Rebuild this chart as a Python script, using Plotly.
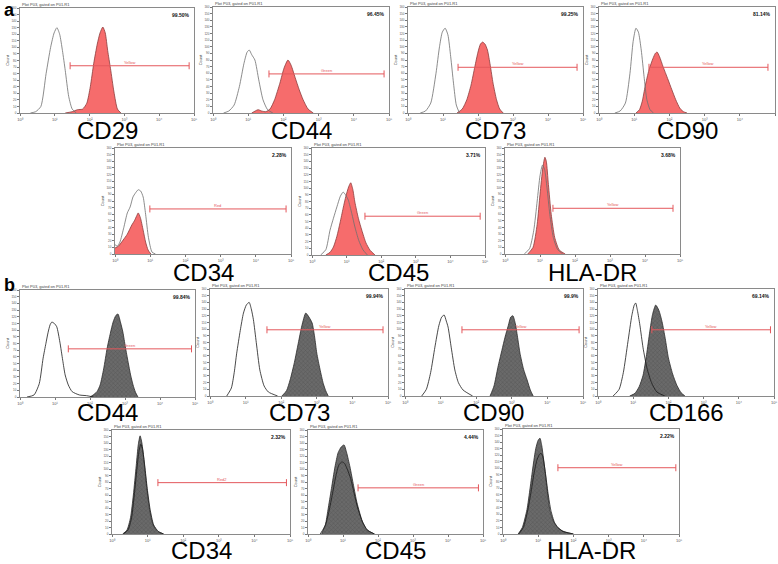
import plotly.graph_objects as go

# ---------------- data (x = log10 fluorescence, y = count) ----------------
MARKERS_A = ["CD29", "CD44", "CD73", "CD90", "CD34", "CD45", "HLA-DR"]
MARKERS_B = ["CD44", "CD73", "CD90", "CD166", "CD34", "CD45", "HLA-DR"]
PCT_A = ["99.50%", "96.45%", "99.25%", "81.14%", "2.28%", "3.71%", "3.68%"]
PCT_B = ["99.84%", "99.94%", "99.9%", "69.14%", "2.32%", "4.44%", "2.22%"]
GATE_NAME_A = ["Yellow", "Green", "Yellow", "Yellow", "Red", "Green", "Yellow"]
GATE_NAME_B = ["Green", "Yellow", "Yellow", "Yellow", "Red2", "Green", "Yellow"]
GATE_START_A = [1.44, 1.59, 1.43, 1.42, 0.99, 1.53, 1.37]
GATE_END_A = [4.86, 4.86, 4.83, 4.80, 4.86, 4.86, 4.80]
GATE_LEVEL_A = [72, 59, 69, 69, 68, 58, 69]
GATE_START_B = [1.38, 1.60, 1.60, 1.53, 1.29, 1.43, 1.56]
GATE_END_B = [4.90, 4.86, 4.89, 4.90, 4.90, 4.87, 4.91]
GATE_LEVEL_B = [72, 99, 99, 99, 79, 71, 101]
DECADE_TICKS = ["10⁰", "10¹", "10²", "10³", "10⁴", "10⁵"]

# panel a: isotype (ISO) and stained (POS)
A_CD29_ISO_X = [0.3, 0.45, 0.6, 0.75, 0.88, 0.98, 1.06, 1.14, 1.22, 1.3, 1.4, 1.5, 1.62]
A_CD29_ISO_Y = [0, 2, 10, 60, 100, 122, 130, 120, 95, 65, 25, 6, 0]
A_CD29_POS_X = [1.3, 1.5, 1.65, 1.8, 1.92, 2.02, 2.12, 2.22, 2.3, 2.38, 2.45, 2.52, 2.6, 2.7, 2.8, 2.9]
A_CD29_POS_Y = [0, 2, 5, 6, 15, 40, 76, 105, 122, 131, 122, 95, 68, 32, 6, 0]

A_CD44_ISO_X = [0.3, 0.45, 0.6, 0.75, 0.88, 0.97, 1.03, 1.1, 1.19, 1.3, 1.42, 1.55, 1.7]
A_CD44_ISO_Y = [0, 3, 12, 40, 75, 92, 95, 88, 80, 50, 20, 5, 0]
A_CD44_POS_X = [1.1, 1.2, 1.28, 1.38, 1.5, 1.62, 1.75, 1.9, 2.02, 2.13, 2.22, 2.33, 2.45, 2.56, 2.7, 2.85]
A_CD44_POS_Y = [0, 3, 5, 3, 2, 6, 20, 45, 68, 80, 72, 54, 35, 20, 6, 0]

A_CD73_ISO_X = [0.35, 0.5, 0.65, 0.8, 0.9, 0.98, 1.06, 1.14, 1.22, 1.3, 1.38, 1.47]
A_CD73_ISO_Y = [0, 3, 15, 60, 100, 122, 128, 118, 85, 45, 12, 0]
A_CD73_POS_X = [1.4, 1.55, 1.68, 1.8, 1.91, 2.0, 2.07, 2.13, 2.2, 2.27, 2.35, 2.43, 2.53, 2.62, 2.72]
A_CD73_POS_Y = [0, 6, 20, 42, 70, 92, 104, 107, 104, 95, 72, 45, 20, 6, 0]

A_CD90_ISO_X = [0.45, 0.6, 0.75, 0.88, 0.97, 1.05, 1.12, 1.2, 1.28, 1.36, 1.45, 1.55]
A_CD90_ISO_Y = [0, 3, 15, 60, 108, 128, 122, 95, 55, 20, 5, 0]
A_CD90_POS_X = [1.05, 1.15, 1.23, 1.31, 1.42, 1.53, 1.6, 1.65, 1.72, 1.82, 1.95, 2.07, 2.18, 2.3, 2.4, 2.5]
A_CD90_POS_Y = [0, 5, 18, 40, 65, 82, 90, 92, 85, 70, 52, 35, 20, 7, 2, 0]

A_CD34_ISO_X = [0, 0.07, 0.14, 0.25, 0.35, 0.43, 0.51, 0.58, 0.66, 0.73, 0.8, 0.87, 0.95, 1.05, 1.15]
A_CD34_ISO_Y = [14, 12, 18, 40, 62, 71, 86, 92, 97, 95, 86, 60, 25, 3, 0]
A_CD34_POS_X = [0, 0.1, 0.23, 0.35, 0.48, 0.55, 0.62, 0.66, 0.72, 0.8, 0.87, 0.94, 1.02]
A_CD34_POS_Y = [9, 12, 21, 30, 44, 50, 58, 62, 55, 36, 18, 6, 0]

A_CD45_ISO_X = [0.25, 0.4, 0.52, 0.62, 0.72, 0.82, 0.9, 0.97, 1.05, 1.15, 1.24, 1.35, 1.47, 1.6]
A_CD45_ISO_Y = [0, 8, 37, 55, 72, 88, 94, 90, 82, 62, 42, 22, 8, 0]
A_CD45_POS_X = [0.4, 0.52, 0.62, 0.72, 0.81, 0.9, 0.98, 1.06, 1.12, 1.18, 1.24, 1.34, 1.44, 1.56, 1.68, 1.82]
A_CD45_POS_Y = [0, 4, 12, 28, 48, 70, 88, 102, 108, 98, 79, 55, 37, 18, 7, 0]

A_HLADR_ISO_X = [0.55, 0.7, 0.82, 0.92, 1.0, 1.07, 1.13, 1.2, 1.28, 1.38, 1.5, 1.65]
A_HLADR_ISO_Y = [0, 8, 35, 80, 118, 134, 128, 100, 60, 25, 7, 0]
A_HLADR_POS_X = [0.65, 0.8, 0.92, 1.0, 1.08, 1.14, 1.18, 1.24, 1.32, 1.42, 1.55, 1.72]
A_HLADR_POS_Y = [0, 10, 45, 90, 130, 146, 140, 105, 60, 25, 6, 0]

# panel b
B_CD44_ISO_X = [0.2, 0.4, 0.55, 0.66, 0.74, 0.8, 0.86, 0.91, 0.98, 1.05, 1.14, 1.22, 1.29, 1.38, 1.49, 1.7, 1.9, 2.1]
B_CD44_ISO_Y = [0, 3, 20, 58, 80, 96, 108, 112, 110, 105, 82, 55, 33, 18, 8, 3, 2, 0]
B_CD44_POS_X = [2.0, 2.09, 2.2, 2.29, 2.39, 2.49, 2.58, 2.66, 2.74, 2.8, 2.87, 2.94, 3.01, 3.09, 3.16, 3.23, 3.3, 3.37]
B_CD44_POS_Y = [0, 3, 8, 18, 42, 73, 95, 112, 122, 124, 112, 97, 75, 52, 33, 18, 7, 0]

B_CD73_ISO_X = [0.47, 0.6, 0.68, 0.75, 0.85, 0.94, 1.02, 1.1, 1.16, 1.22, 1.3, 1.4, 1.52, 1.64, 1.9]
B_CD73_ISO_Y = [0, 12, 35, 64, 98, 124, 136, 140, 130, 114, 80, 39, 15, 6, 0]
B_CD73_POS_X = [2.02, 2.15, 2.25, 2.37, 2.48, 2.58, 2.69, 2.78, 2.87, 2.94, 3.0, 3.09, 3.18, 3.25, 3.32]
B_CD73_POS_Y = [0, 8, 24, 50, 79, 105, 124, 118, 109, 88, 64, 40, 19, 8, 0]

B_CD90_ISO_X = [0.47, 0.6, 0.72, 0.84, 0.95, 1.03, 1.1, 1.16, 1.21, 1.3, 1.4, 1.5, 1.63, 1.9]
B_CD90_ISO_Y = [0, 10, 35, 73, 105, 118, 121, 112, 103, 72, 39, 20, 9, 0]
B_CD90_POS_X = [2.39, 2.5, 2.61, 2.72, 2.81, 2.9, 2.97, 3.03, 3.1, 3.17, 3.23, 3.33, 3.43, 3.52, 3.6]
B_CD90_POS_Y = [0, 15, 43, 68, 88, 105, 118, 120, 108, 85, 64, 40, 24, 9, 0]

B_CD166_ISO_X = [0.43, 0.6, 0.72, 0.85, 0.96, 1.03, 1.07, 1.12, 1.19, 1.28, 1.39, 1.52, 1.67, 1.9]
B_CD166_ISO_Y = [0, 10, 35, 81, 120, 136, 139, 128, 106, 72, 42, 20, 6, 0]
B_CD166_POS_X = [0.9, 1.05, 1.17, 1.28, 1.38, 1.47, 1.55, 1.64, 1.73, 1.82, 1.91, 2.0, 2.12, 2.24, 2.36, 2.47]
B_CD166_POS_Y = [0, 4, 14, 31, 62, 96, 122, 136, 128, 111, 86, 57, 33, 16, 5, 0]

B_CD34_ISO_X = [0.32, 0.45, 0.55, 0.63, 0.7, 0.76, 0.81, 0.86, 0.92, 0.99, 1.07, 1.17, 1.3, 1.45]
B_CD34_ISO_Y = [0, 6, 25, 62, 100, 128, 138, 130, 105, 70, 38, 14, 4, 0]
B_CD34_POS_X = [0.3, 0.42, 0.52, 0.6, 0.68, 0.74, 0.79, 0.84, 0.9, 0.97, 1.05, 1.15, 1.28, 1.45]
B_CD34_POS_Y = [0, 6, 25, 60, 105, 138, 151, 140, 112, 75, 40, 15, 4, 0]

B_CD45_ISO_X = [0.35, 0.5, 0.6, 0.7, 0.8, 0.88, 0.97, 1.05, 1.12, 1.22, 1.32, 1.42, 1.56, 1.7, 1.9]
B_CD45_ISO_Y = [0, 14, 35, 62, 90, 106, 111, 108, 100, 85, 62, 40, 18, 6, 0]
B_CD45_POS_X = [0.39, 0.5, 0.57, 0.67, 0.77, 0.86, 0.95, 1.03, 1.1, 1.2, 1.3, 1.4, 1.55, 1.69, 1.9]
B_CD45_POS_Y = [0, 15, 37, 70, 103, 125, 134, 137, 126, 103, 75, 48, 20, 6, 0]

B_HLADR_ISO_X = [0.45, 0.58, 0.7, 0.8, 0.88, 0.96, 1.03, 1.08, 1.13, 1.2, 1.28, 1.36, 1.46, 1.56, 1.7, 1.85, 2.0]
B_HLADR_ISO_Y = [0, 10, 35, 65, 92, 112, 121, 123, 118, 95, 62, 36, 18, 10, 4, 2, 0]
B_HLADR_POS_X = [0.43, 0.55, 0.68, 0.77, 0.85, 0.93, 1.0, 1.05, 1.1, 1.19, 1.26, 1.33, 1.43, 1.53, 1.68, 1.82, 2.0]
B_HLADR_POS_Y = [0, 10, 37, 70, 102, 130, 143, 146, 135, 98, 65, 37, 20, 11, 5, 2, 0]

CURVES_A = [
    (A_CD29_ISO_X, A_CD29_ISO_Y, A_CD29_POS_X, A_CD29_POS_Y),
    (A_CD44_ISO_X, A_CD44_ISO_Y, A_CD44_POS_X, A_CD44_POS_Y),
    (A_CD73_ISO_X, A_CD73_ISO_Y, A_CD73_POS_X, A_CD73_POS_Y),
    (A_CD90_ISO_X, A_CD90_ISO_Y, A_CD90_POS_X, A_CD90_POS_Y),
    (A_CD34_ISO_X, A_CD34_ISO_Y, A_CD34_POS_X, A_CD34_POS_Y),
    (A_CD45_ISO_X, A_CD45_ISO_Y, A_CD45_POS_X, A_CD45_POS_Y),
    (A_HLADR_ISO_X, A_HLADR_ISO_Y, A_HLADR_POS_X, A_HLADR_POS_Y),
]
CURVES_B = [
    (B_CD44_ISO_X, B_CD44_ISO_Y, B_CD44_POS_X, B_CD44_POS_Y),
    (B_CD73_ISO_X, B_CD73_ISO_Y, B_CD73_POS_X, B_CD73_POS_Y),
    (B_CD90_ISO_X, B_CD90_ISO_Y, B_CD90_POS_X, B_CD90_POS_Y),
    (B_CD166_ISO_X, B_CD166_ISO_Y, B_CD166_POS_X, B_CD166_POS_Y),
    (B_CD34_ISO_X, B_CD34_ISO_Y, B_CD34_POS_X, B_CD34_POS_Y),
    (B_CD45_ISO_X, B_CD45_ISO_Y, B_CD45_POS_X, B_CD45_POS_Y),
    (B_HLADR_ISO_X, B_HLADR_ISO_Y, B_HLADR_POS_X, B_HLADR_POS_Y),
]

# ---------------- layout (pixel boxes: left, right, top, bottom) ----------------
W, H = 778, 564
BOXES_A = [(20, 194, 8, 113), (213, 389, 7, 113), (408, 583, 7, 113), (599, 775, 7, 113),
           (115, 291, 148, 254), (312, 485, 148, 255), (505, 680, 148, 254)]
BOXES_B = [(20, 195, 290, 397), (210, 388, 289, 396), (405, 583, 289, 396), (598, 774, 289, 396),
           (112, 290, 430, 534), (308, 483, 430, 534), (503, 679, 429, 534)]
LABEL_Y_A = [130, 130, 130, 130, 272, 272, 272]
LABEL_Y_B = [412, 412, 412, 412, 550, 550, 550]

RED_FILL = "rgba(246,108,108,1)"
RED_LINE = "#8c3b3b"
GRAY_FILL = "#6a6a6a"
GATE_COLOR = "#e4585c"

fig = go.Figure()
annotations = []
layout = {}


def lg(vals):
    return [10 ** v for v in vals]


def add_panel(n, box, curves, stained_fill, stained_line, iso_color, gate, gname, pct, label, label_y, hatch):
    left, right, top, bottom = box
    xa, ya = f"x{n}" if n > 1 else "x", f"y{n}" if n > 1 else "y"
    xk, yk = f"xaxis{n}" if n > 1 else "xaxis", f"yaxis{n}" if n > 1 else "yaxis"
    iso_x, iso_y, pos_x, pos_y = curves
    extra = {}
    if hatch:
        extra["fillpattern"] = dict(shape="x", bgcolor=stained_fill, fgcolor="#3c3c3c", size=3, solidity=0.25)
    fig.add_trace(go.Scatter(x=lg(pos_x), y=pos_y, mode="lines", line=dict(color=stained_line, width=0.8, shape="spline", smoothing=0.6),
                             fill="tozeroy", fillcolor=stained_fill, xaxis=xa, yaxis=ya, showlegend=False, hoverinfo="skip", **extra))
    fig.add_trace(go.Scatter(x=lg(iso_x), y=iso_y, mode="lines", line=dict(color=iso_color, width=0.8, shape="spline", smoothing=0.6),
                             xaxis=xa, yaxis=ya, showlegend=False, hoverinfo="skip"))
    g0, g1, gy = gate
    fig.add_trace(go.Scatter(x=lg([g0, g1]), y=[gy, gy], mode="lines+markers",
                             line=dict(color=GATE_COLOR, width=1),
                             marker=dict(symbol="line-ns-open", size=5, line=dict(color=GATE_COLOR, width=1)),
                             xaxis=xa, yaxis=ya, showlegend=False, hoverinfo="skip"))
    layout[xk] = dict(domain=[left / W, right / W], anchor=ya, type="log", range=[0, 5], automargin=False,
                      tickvals=[1, 10, 100, 1000, 10000, 100000], ticktext=DECADE_TICKS,
                      tickfont=dict(size=4, color="#555"), ticks="outside", ticklen=2, tickcolor="#777",
                      showline=True, linecolor="#8a8a8a", linewidth=1, mirror=True, showgrid=False, zeroline=False)
    layout[yk] = dict(domain=[1 - bottom / H, 1 - top / H], anchor=xa, range=[0, 160], dtick=10, automargin=False,
                      tickfont=dict(size=3, color="#555"), ticks="outside", ticklen=2, tickcolor="#777",
                      showline=True, linecolor="#8a8a8a", linewidth=1, mirror=True, showgrid=False, zeroline=False,
                      title=dict(text="Count", font=dict(size=4, color="#444"), standoff=1))
    annotations.append(dict(xref=f"{xa} domain", yref=f"{ya} domain", x=0.99, y=0.985, xanchor="right", yanchor="top",
                            text=f"<b>{pct}</b>", showarrow=False, font=dict(size=5, color="#111", family="Liberation Sans")))
    annotations.append(dict(xref=f"{xa} domain", yref=f"{ya} domain", x=0.0, y=1.0, xanchor="left", yanchor="bottom",
                            text="Plot P03, gated on P01.R1", showarrow=False, font=dict(size=4, color="#444"), yshift=-1))
    annotations.append(dict(xref=xa, yref=ya, x=(g0 + g1) / 2, y=gy, xanchor="center", yanchor="bottom",
                            text=gname, showarrow=False, font=dict(size=4, color=GATE_COLOR), yshift=-1))
    annotations.append(dict(xref="paper", yref="paper", x=(left + right) / 2 / W, y=1 - label_y / H,
                            xanchor="center", yanchor="middle", text=label, showarrow=False,
                            font=dict(size=24, color="#000", family="Liberation Sans")))


n = 1
for i in range(7):
    add_panel(n, BOXES_A[i], CURVES_A[i], RED_FILL, RED_LINE, "#6f6f6f",
              (GATE_START_A[i], GATE_END_A[i], GATE_LEVEL_A[i]), GATE_NAME_A[i], PCT_A[i], MARKERS_A[i], LABEL_Y_A[i], False)
    n += 1
for i in range(7):
    add_panel(n, BOXES_B[i], CURVES_B[i], GRAY_FILL, "#2a2a2a", "#1a1a1a",
              (GATE_START_B[i], GATE_END_B[i], GATE_LEVEL_B[i]), GATE_NAME_B[i], PCT_B[i], MARKERS_B[i], LABEL_Y_B[i], True)
    n += 1

annotations.append(dict(xref="paper", yref="paper", x=2 / W, y=1 - 10 / H, xanchor="left", yanchor="middle",
                        text="<b>a</b>", showarrow=False, font=dict(size=18, color="#000", family="Liberation Sans")))
annotations.append(dict(xref="paper", yref="paper", x=2 / W, y=1 - 285 / H, xanchor="left", yanchor="middle",
                        text="<b>b</b>", showarrow=False, font=dict(size=18, color="#000", family="Liberation Sans")))

fig.update_layout(width=W, height=H, margin=dict(l=0, r=0, t=0, b=0, autoexpand=False),
                  paper_bgcolor="white", plot_bgcolor="white",
                  font=dict(family="Liberation Sans"), annotations=annotations, showlegend=False, **layout)
fig.write_html("out.html", config={"displayModeBar": False},
               post_script="document.body.style.margin='0';document.body.style.overflow='hidden';")
